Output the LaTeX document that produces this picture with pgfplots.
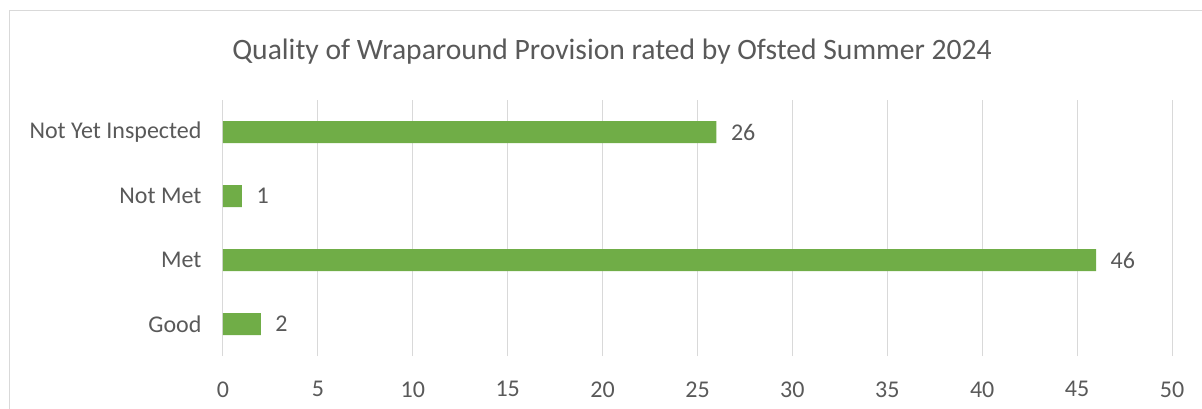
\documentclass[border=0pt]{standalone}
\usepackage{fontspec}
\setmainfont{Carlito}
\usepackage{pgfplots}
\pgfplotsset{compat=1.18}
\definecolor{barg}{HTML}{70AD47}
\definecolor{txt}{HTML}{595959}
\definecolor{grd}{HTML}{D9D9D9}

\begin{document}
\begin{tikzpicture}
\begin{axis}[
 xbar, scale only axis, width=949pt, height=256pt,
 xmin=0, xmax=50, ymin=-0.5, ymax=3.5,
 xtick={0,5,...,50}, ytick={0,1,2,3},
 yticklabels={Good,Met,Not Met,Not Yet Inspected},
 bar width=22pt,
 axis line style={draw=none},
 major tick length=0pt,
 xmajorgrids, ymajorgrids=false,
 grid style={grd, line width=1pt},
 tick label style={text=txt, font=\fontsize{24}{28}\selectfont},
 xticklabel style={yshift=-22pt},
 yticklabel style={xshift=-18pt},
 nodes near coords,
 nodes near coords style={text=txt, font=\fontsize{24}{28}\selectfont, anchor=west, xshift=11pt},
 /pgf/number format/assume math mode=true,
]
\addplot[fill=barg, draw=none] coordinates {(2,0) (46,1) (1,2) (26,3)};
\end{axis}
\node[text=txt, font=\fontsize{29.6}{34}\selectfont, anchor=center] at ([xshift=389pt,yshift=304pt]current axis.south west) {Quality of Wraparound Provision rated by Ofsted Summer 2024};
\draw[grd, line width=1pt] ([xshift=-213pt,yshift=-60pt]current axis.south west) |- ([xshift=990pt,yshift=345pt]current axis.south west);
\pgfresetboundingbox
\path[use as bounding box] ([xshift=-223pt,yshift=-52pt]current axis.south west) rectangle ++(1202pt,408pt);
\end{tikzpicture}
\end{document}
